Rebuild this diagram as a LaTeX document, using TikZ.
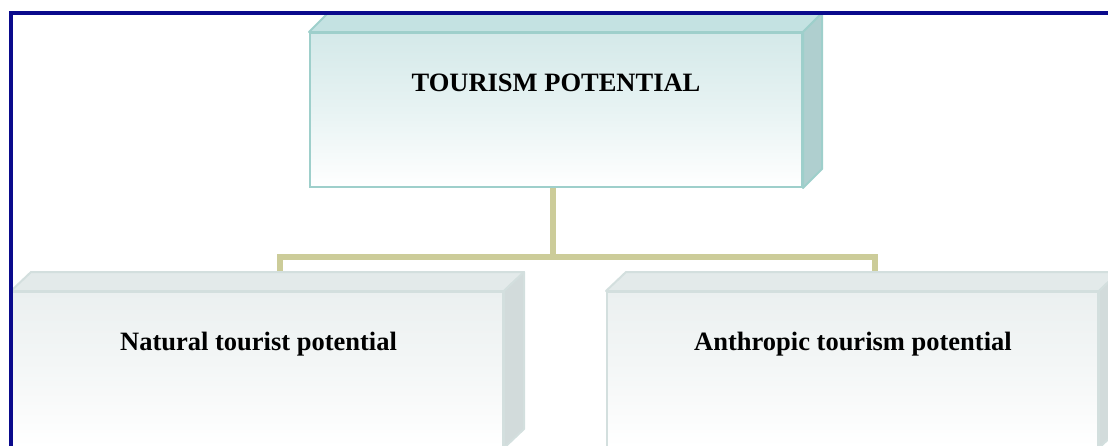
\documentclass[tikz,border=0pt]{standalone}
\usepackage{fontspec}
\setmainfont{Liberation Serif}
\usetikzlibrary{calc}
\definecolor{navy}{HTML}{0A0A8C}
\definecolor{tealb}{HTML}{9ECFCB}
\definecolor{tealtop}{HTML}{C4E2E2}
\definecolor{tealside}{HTML}{AFCFCF}
\definecolor{tealfront}{HTML}{D4E9E9}
\definecolor{greyb}{HTML}{D3DFDE}
\definecolor{greytop}{HTML}{E3EAEA}
\definecolor{greyside}{HTML}{D2DBDB}
\definecolor{greyfront}{HTML}{EBF0F0}
\definecolor{khaki}{HTML}{CCCC99}
\tikzset{
  topbox/.style={rectangle, inner sep=0pt, draw=tealb, line width=2pt,
    top color=tealfront, bottom color=white, middle color=tealfront!55!white},
  topface/.style={draw=tealb, line width=2pt, line join=round, fill=tealtop},
  topside/.style={draw=tealb, line width=2pt, line join=round, fill=tealside},
  subbox/.style={rectangle, inner sep=0pt, draw=greyb, line width=2pt,
    top color=greyfront, bottom color=white, middle color=greyfront!55!white},
  subface/.style={draw=greyb, line width=2pt, line join=round, fill=greytop},
  subside/.style={draw=greyb, line width=2pt, line join=round, fill=greyside},
  conn/.style={draw=khaki, line width=6pt},
  lbl/.style={font=\fontsize{26.5}{30}\selectfont\bfseries, inner sep=0pt, anchor=base},
  frame/.style={draw=navy, line width=4pt}
}
\begin{document}
\begin{tikzpicture}[x=1pt,y=-1pt]
\useasboundingbox (0,0) rectangle (1108,445);
\clip (0,0) rectangle (1108,445);
% boxes (front faces)
\node[topbox, minimum width=492pt, minimum height=154pt] (top) at (556,110) {};
\node[subbox, minimum width=491pt, minimum height=155pt] (left) at (257.5,369.5) {};
\node[subbox, minimum width=491pt, minimum height=155pt] (right) at (852.5,369.5) {};
% connector points on the back edges of the lower boxes
\coordinate (ltop) at ($(left.north)+(22,-19)$);
\coordinate (rtop) at ($(right.north)+(22,-19)$);
\coordinate (mid) at ($(top.south)+(-3,69)$);
\draw[conn] (top.south -| mid) -- (mid);
\draw[conn] (ltop) |- (mid) -| (rtop);
% 3D faces
\draw[topface] (top.north west) -- ++(19,-19) -- ($(top.north east)+(19,-19)$) -- (top.north east) -- cycle;
\draw[topside] (top.north east) -- ++(19,-19) -- ($(top.south east)+(19,-19)$) -- (top.south east) -- cycle;
\draw[subface] (left.north west) -- ++(20,-19) -- ($(left.north east)+(20,-19)$) -- (left.north east) -- cycle;
\draw[subside] (left.north east) -- ++(20,-19) -- ($(left.south east)+(20,-19)$) -- (left.south east) -- cycle;
\draw[subface] (right.north west) -- ++(20,-19) -- ($(right.north east)+(20,-19)$) -- (right.north east) -- cycle;
\draw[subside] (right.north east) -- ++(20,-19) -- ($(right.south east)+(20,-19)$) -- (right.south east) -- cycle;
% labels
\node[lbl] (ttxt) at (556,91) {TOURISM POTENTIAL};
\node[lbl] (ltxt) at (258.5,350) {Natural tourist potential};
\node[lbl] (rtxt) at (853,350) {Anthropic tourism potential};
% frame
\draw[frame] (10.5,446) -- (10.5,12.5) -- (1109,12.5);
\end{tikzpicture}
\end{document}
